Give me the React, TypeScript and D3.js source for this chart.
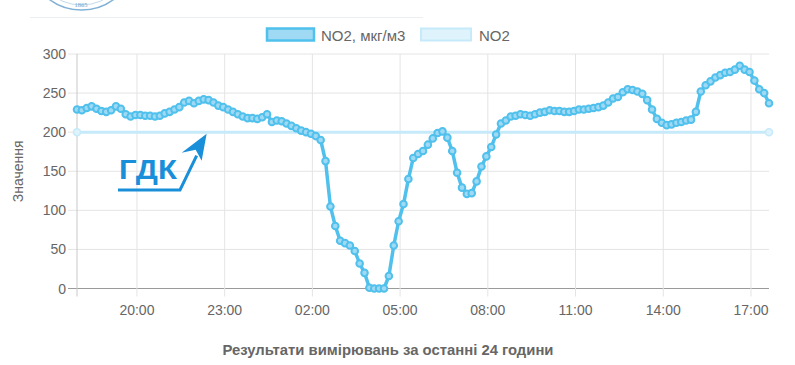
import React from "react";
import * as d3 from "d3";

// ---- data ----
const startTime = "2021-03-01T17:57:00";
const stepMinutes = 10;
const no2Values: number[] = [
  229, 228, 231, 233, 230, 227, 226, 228, 233, 230,
  223, 220, 222, 222, 221, 221, 220, 221, 224, 226,
  229, 232, 238, 240, 237, 240, 242, 241, 238, 234,
  232, 229, 226, 223, 220, 218, 218, 217, 219, 223,
  213, 215, 214, 211, 208, 205, 202, 200, 198, 195,
  190, 163, 105, 80, 61, 58, 55, 48, 32, 20,
  1, 0, 0, 0, 16, 55, 86, 108, 140, 167,
  172, 176, 184, 192, 199, 201, 193, 176, 148, 129,
  121, 122, 137, 156, 169, 181, 197, 211, 215, 220,
  221, 223, 222, 221, 223, 225, 226, 228, 227, 227,
  226, 226, 227, 229, 229, 230, 231, 232, 234, 238,
  243, 245, 251, 255, 254, 252, 249, 241, 229, 217,
  212, 209, 210, 212, 213, 215, 216, 226, 252, 260,
  265, 270, 273, 276, 277, 280, 285, 280, 277, 266,
  255, 250, 237,
];
const limitValue = 200;
const xTickLabels = ["20:00", "23:00", "02:00", "05:00", "08:00", "11:00", "14:00", "17:00"];
const yTicks = [0, 50, 100, 150, 200, 250, 300];
const seriesNames = ["NO2, мкг/м3", "NO2"];
const xTitle = "Результати вимірювань за останні 24 години";
const yTitle = "Значення";
const annotation = "ГДК";
const logoYear = "1865";

const W = 795;
const H = 365;
const M = { left: 77, right: 769, top: 54, bottom: 288.5 };
const FONT = "'Liberation Sans', Arial, Helvetica, sans-serif";

export default function App() {
  const t0 = new Date(startTime);
  const times = no2Values.map((_, i) => new Date(t0.getTime() + i * stepMinutes * 60000));
  const x = d3.scaleTime().domain([times[0], times[times.length - 1]]).range([M.left, M.right]);
  const y = d3.scaleLinear().domain([0, 300]).range([M.bottom, M.top]);

  const tickDates: Date[] = [];
  let dayOffset = 0;
  let prevHour = -1;
  xTickLabels.forEach((lab) => {
    const [hh, mm] = lab.split(":").map(Number);
    if (hh < prevHour) dayOffset += 1;
    prevHour = hh;
    const d = new Date(t0);
    d.setDate(d.getDate() + dayOffset);
    d.setHours(hh, mm, 0, 0);
    tickDates.push(d);
  });

  const line = d3
    .line<number>()
    .x((_, i) => x(times[i]))
    .y((v) => y(v))
    .curve(d3.curveLinear);

  const limitPts: [Date, number][] = [
    [times[0], limitValue],
    [times[times.length - 1], limitValue],
  ];
  const limitLine = d3
    .line<[Date, number]>()
    .x((d) => x(d[0]))
    .y((d) => y(d[1]));

  const mainStroke = "#50c0ec";
  const mainFill = "#9fd9f3";
  const limStroke = "#c6eaf9";
  const limFill = "#dff3fc";
  const annColor = "#1a8fd9";

  const tip: [number, number] = [x(tickDates[1]) - 18, y(limitValue) + 1.5];

  return (
    <svg
      width={W}
      height={H}
      style={{ position: "fixed", left: 0, top: 0, background: "#fff" }}
      fontFamily={FONT}
    >
      {/* partial logo at top-left */}
      <g>
        <circle cx={81.5} cy={-44} r={54} fill="none" stroke="#7fb0d6" strokeWidth={1.5} />
        <circle cx={81.5} cy={-44} r={49} fill="none" stroke="#b3cfe6" strokeWidth={0.8} />
        <text x={81} y={7} fontSize={6.5} fill="#6d9cc7" textAnchor="middle" fontFamily="'Liberation Serif', serif">{logoYear}</text>
      </g>
      <line x1={30} x2={423} y1={17.5} y2={17.5} stroke="#eceff2" strokeWidth={1} />

      {/* legend */}
      <g>
        <rect x={267} y={28.5} width={47} height={12} fill={mainFill} stroke={mainStroke} strokeWidth={2.5} />
        <text x={321} y={40.5} fontSize={15} fill="#666">{seriesNames[0]}</text>
        <rect x={421} y={28.5} width={50} height={12} fill={limFill} stroke={limStroke} strokeWidth={2} />
        <text x={479} y={40.5} fontSize={15} fill="#666">{seriesNames[1]}</text>
      </g>

      {/* grid */}
      <g>
        {yTicks.map((t) => (
          <line key={"gy" + t} x1={M.left - 9} x2={M.right} y1={y(t)} y2={y(t)} stroke={t === 0 ? "#9a9a9a" : "#e4e4e4"} strokeWidth={1} />
        ))}
        <line x1={M.left} x2={M.left} y1={M.top} y2={M.bottom + 8} stroke="#c8c8c8" strokeWidth={1} />
        {tickDates.map((d, i) => (
          <line key={"gx" + i} x1={x(d)} x2={x(d)} y1={M.top} y2={M.bottom + 8} stroke="#e4e4e4" strokeWidth={1} />
        ))}
      </g>

      {yTicks.map((t) => (
        <text key={"yl" + t} x={M.left - 11} y={y(t) + 5} fontSize={14} fill="#666" textAnchor="end">
          {t}
        </text>
      ))}
      {tickDates.map((d, i) => (
        <text key={"xl" + i} x={x(d)} y={315} fontSize={14} fill="#666" textAnchor="middle">
          {xTickLabels[i]}
        </text>
      ))}

      <text
        transform={`translate(23,${(M.top + M.bottom) / 2}) rotate(-90)`}
        fontSize={14}
        fill="#666"
        textAnchor="middle"
      >
        {yTitle}
      </text>
      <text x={388} y={355} fontSize={14} fontWeight="bold" fill="#666" textAnchor="middle" textLength={331} lengthAdjust="spacingAndGlyphs">
        {xTitle}
      </text>

      {/* limit line */}
      <path d={limitLine(limitPts) || ""} fill="none" stroke={limStroke} strokeWidth={3} />
      {limitPts.map((p, i) => (
        <circle key={"lp" + i} cx={x(p[0])} cy={y(p[1])} r={3.5} fill={limFill} stroke={limStroke} strokeWidth={1.5} />
      ))}

      {/* main series */}
      <path d={line(no2Values) || ""} fill="none" stroke={mainStroke} strokeWidth={3.5} strokeLinejoin="round" />
      {no2Values.map((v, i) => (
        <circle key={"p" + i} cx={x(times[i])} cy={y(v)} r={3.3} fill={mainFill} stroke={mainStroke} strokeWidth={2} />
      ))}

      {/* annotation */}
      <g>
        <text x={119} y={178.5} fontSize={28} fontWeight="bold" fill={annColor} textLength={58} lengthAdjust="spacingAndGlyphs">{annotation}</text>
        <path
          d={`M118,190 L180,190 L${tip[0] - 10},${tip[1] + 22}`}
          fill="none"
          stroke={annColor}
          strokeWidth={3}
        />
        <path
          d={`M${tip[0]},${tip[1]} L${tip[0] - 25},${tip[1] + 19} L${tip[0] - 11},${tip[1] + 16} L${tip[0] - 5},${tip[1] + 27} Z`}
          fill={annColor}
        />
      </g>
    </svg>
  );
}
